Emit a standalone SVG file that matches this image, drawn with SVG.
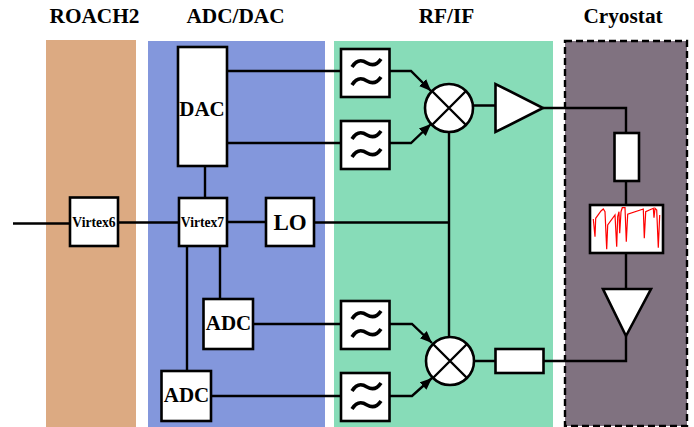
<svg xmlns="http://www.w3.org/2000/svg" width="694" height="427" viewBox="0 0 694 427">
<style>
text{font-family:"Liberation Serif","Times New Roman",serif;font-weight:bold;fill:#000;text-anchor:middle}
.h{font-size:21.300px}
.b{fill:#fff;stroke:#000;stroke-width:2.600}
.l{fill:none;stroke:#000;stroke-width:2.400}
.n{font-size:21px}
.v{font-size:13.600px}
.w{fill:none;stroke:#000;stroke-width:3.600}
</style>
<defs>
<marker id="a" markerUnits="userSpaceOnUse" markerWidth="14" markerHeight="12" refX="12" refY="5" orient="auto"><path d="M0 0L12 5L0 10Z" fill="#000"/></marker>
<g id="fl"><rect class="b" x="0" y="0" width="48.500" height="48"/><path class="w" d="M11 18C16 10 21 11 26 14C31 17 36 16 40 10M11 36C16 28 21 29 26 32C31 35 36 34 40 28"/></g>
</defs>
<g id="panels">
<rect x="46" y="40" width="90" height="387" fill="#dcaa82"/>
<rect x="148" y="41" width="177" height="386" fill="#8397dc"/>
<rect x="334" y="41" width="219" height="386" fill="#87dcb8"/>
<rect x="565" y="41" width="122" height="385" fill="#807280" stroke="#000" stroke-width="2.400" stroke-dasharray="7 4"/>
</g>
<g id="titles">
<text class="h" x="94.500" y="23">ROACH2</text>
<text class="h" x="235.500" y="23">ADC/DAC</text>
<text class="h" x="446.500" y="23">RF/IF</text>
<text class="h" x="623" y="23">Cryostat</text>
</g>
<g id="connectors">
<path class="l" d="M13 223.500H70M118 222.500H179M227 222H266M314 222.500H449M205 166V198M187 246V371M220 246V299"/>
<path class="l" d="M227 71H341M227 143H341M253 324H341M211 396H341"/>
<path class="l" marker-end="url(#a)" d="M390 71H411L431 91"/>
<path class="l" marker-end="url(#a)" d="M390 143H411L431 124"/>
<path class="l" marker-end="url(#a)" d="M390 324H412L432 343"/>
<path class="l" marker-end="url(#a)" d="M390 396H412L432 378"/>
<path class="l" d="M449 132V336M473 105.500H495M474 361H495M543 108H626V133M626 181V205M626 253V289M626 336V361H544"/>
</g>
<g id="dac"><rect class="b" x="178" y="47" width="49" height="119"/><text class="n" x="202" y="116">DAC</text></g>
<g id="virtex6"><rect class="b" x="70" y="197.500" width="48" height="48.500"/><text class="v" x="94" y="227">Virtex6</text></g>
<g id="virtex7"><rect class="b" x="179" y="198" width="48" height="48"/><text class="v" x="202.500" y="227">Virtex7</text></g>
<g id="lo"><rect class="b" x="266" y="198" width="48" height="48"/><text x="290" y="230" style="font-size:23px">LO</text></g>
<g id="adc1"><rect class="b" x="203.500" y="299" width="49.500" height="50"/><text class="n" x="228.500" y="330">ADC</text></g>
<g id="adc2"><rect class="b" x="161.500" y="371" width="49.500" height="50"/><text class="n" x="186.500" y="402">ADC</text></g>
<g id="filter1"><use href="#fl" x="341" y="49"/></g>
<g id="filter2"><use href="#fl" x="341" y="121"/></g>
<g id="filter3"><use href="#fl" x="341" y="301"/></g>
<g id="filter4"><use href="#fl" x="341" y="373"/></g>
<g id="mixer1"><circle class="b" cx="449" cy="108" r="24"/><path class="l" d="M432 91L466 125M466 91L432 125"/></g>
<g id="mixer2"><circle class="b" cx="450" cy="361" r="24"/><path class="l" d="M433 344L467 378M467 344L433 378"/></g>
<g id="amp1"><path class="b" d="M495.500 84V132L543 108Z"/></g>
<g id="atten1"><rect class="b" x="614.500" y="133" width="24.500" height="48"/></g>
<g id="spectrum"><rect class="b" x="590" y="205" width="73" height="48"/>
<path fill="none" stroke="#f00" stroke-width="1.200" d="M593.300 219L595 236.700L595.700 218.300L601 211L603.300 209L605 211.700L606.700 249.300L607.700 225L615 215L616.700 246.700L617.700 216.700L619 211.700L619.700 233.300L621 211.700L622.300 207.700L625 207.700L626.300 241.700L627.700 214.300L643.300 209L644.300 238.300L645.700 211.700L653.300 208.300L654 217.700L655 208.300L656.700 210L658.300 247.700L659.700 215"/></g>
<g id="amp2"><path class="b" d="M603 289H651L626 336Z"/></g>
<g id="atten2"><rect class="b" x="495.500" y="349" width="48" height="24"/></g>
</svg>
